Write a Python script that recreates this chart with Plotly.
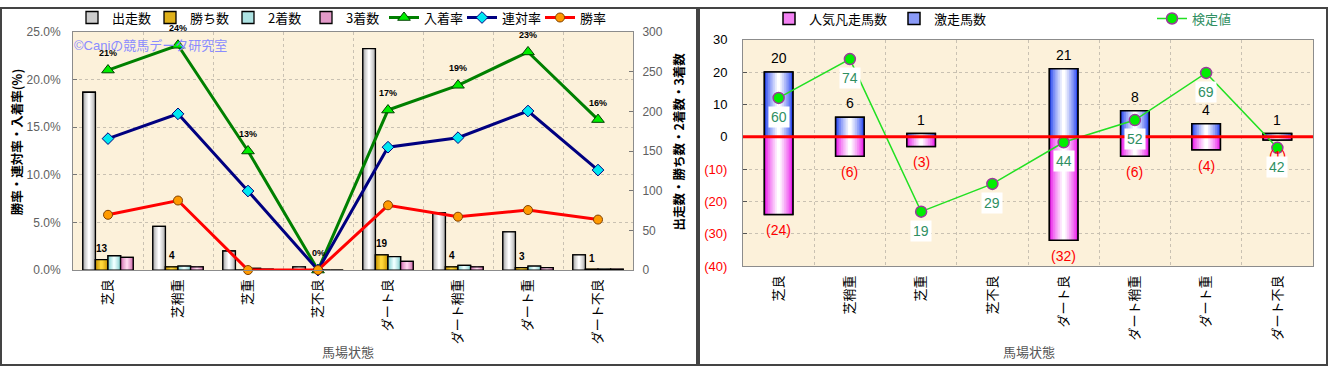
import plotly.graph_objects as go

# ---------------- data ----------------
categories = ['芝良', '芝稍重', '芝重', '芝不良', 'ダート良', 'ダート稍重', 'ダート重', 'ダート不良']

# left chart: counts (right axis) and rates (left axis, %)
starts = [224, 55, 24, 4, 279, 72, 48, 19]
wins = [13, 4, 0, 0, 19, 4, 3, 1]
seconds = [18, 5, 2, 0, 17, 6, 5, 1]
thirds = [16, 4, 1, 0, 11, 4, 3, 1]
place_rate = [21.0, 23.6, 12.5, 0.0, 16.8, 19.4, 22.9, 15.8]
rentai_rate = [13.8, 16.4, 8.3, 0.0, 12.9, 13.9, 16.7, 10.5]
win_rate = [5.8, 7.3, 0.0, 0.0, 6.8, 5.6, 6.3, 5.3]
place_labels = ['21%', '24%', '13%', '0%', '17%', '19%', '23%', '16%']
pct_ticks = [0, 5, 10, 15, 20, 25]
count_ticks = [0, 50, 100, 150, 200, 250, 300]

# right chart
gekiso = [20, 6, 1, 0, 21, 8, 4, 1]          # 激走馬数 (positive)
bonso = [24, 6, 3, 0, 32, 6, 4, 1]           # 人気凡走馬数 (drawn downward)
kentei = [60, 74, 19, 29, 44, 52, 69, 42]    # 検定値
right_ticks = [30, 20, 10, 0, -10, -20, -30, -40]

# ---------------- styling ----------------
W, H = 1328, 375
FONT = 'Liberation Sans, Noto Sans CJK JP, sans-serif'
JP = 'Noto Sans CJK JP, sans-serif'
BG = '#fcf1da'
GRID = '#c9c1b2'


def px_x(v):
    return v / W


def px_y(v):
    return 1 - v / H


def mix(c1, c2, t):
    a = [int(c1[i:i + 2], 16) for i in (1, 3, 5)]
    b = [int(c2[i:i + 2], 16) for i in (1, 3, 5)]
    return '#%02x%02x%02x' % tuple(round(a[j] + (b[j] - a[j]) * t) for j in range(3))


def layers_for(edge, center, n=8):
    out = []
    for k in range(n):
        frac = 1.0 - k / n
        t = (k / (n - 1)) ** 0.8
        out.append((frac, mix(edge, center, t)))
    return out


fig = go.Figure()


def gradient_bar(x, y, name, offset, width, layers, xaxis, yaxis, legend, group, line_w=1.3):
    for k, (frac, color) in enumerate(layers):
        w = width * frac
        fig.add_trace(go.Bar(
            x=x, y=y, name=name, offset=offset + (width - w) / 2, width=w,
            marker=dict(color=color if k else mix(layers[0][1], layers[-1][1], 0.45),
                        line=dict(color='black', width=line_w if k == 0 else 0)),
            xaxis=xaxis, yaxis=yaxis, legend=legend, legendgroup=group,
            showlegend=(k == 0), hoverinfo='skip'))
        if k == 0:
            fig.add_trace(go.Bar(
                x=x, y=y, name=name, offset=offset, width=width,
                marker=dict(color=color, line=dict(width=0)),
                xaxis=xaxis, yaxis=yaxis, legend=legend, legendgroup=group,
                showlegend=False, hoverinfo='skip'))
    fig.add_trace(go.Bar(
        x=x, y=y, name=name, offset=offset, width=width,
        marker=dict(color='rgba(0,0,0,0)', line=dict(color='black', width=line_w)),
        xaxis=xaxis, yaxis=yaxis, legend=legend, legendgroup=group,
        showlegend=False, hoverinfo='skip'))


# ---- left chart bars (counts on y) ----
bw = 0.18
left_series = [
    ('出走数', starts, layers_for('#a4a4a4', '#ffffff')),
    ('勝ち数', wins, layers_for('#c39000', '#ffd83a')),
    ('2着数', seconds, layers_for('#7ccccc', '#ecffff')),
    ('3着数', thirds, layers_for('#cc68aa', '#ffd6ee')),
]
for i, (nm, vals, layers) in enumerate(left_series):
    gradient_bar(categories, vals, nm, -2 * bw + i * bw, bw, layers, 'x', 'y', 'legend', 'L' + nm)

# ---- left chart lines (rates on y2) ----
fig.add_trace(go.Scatter(
    x=categories, y=place_rate, name='入着率', mode='lines+markers',
    line=dict(color='#008000', width=3),
    marker=dict(symbol='triangle-up', size=11, color='#00ee00', line=dict(color='#004000', width=1)),
    xaxis='x', yaxis='y2', legend='legend', cliponaxis=False, hoverinfo='skip'))
fig.add_trace(go.Scatter(
    x=categories, y=rentai_rate, name='連対率', mode='lines+markers',
    line=dict(color='#000080', width=3),
    marker=dict(symbol='diamond', size=9, color='#00e8f0', line=dict(color='#000080', width=1)),
    xaxis='x', yaxis='y2', legend='legend', cliponaxis=False, hoverinfo='skip'))
fig.add_trace(go.Scatter(
    x=categories, y=win_rate, name='勝率', mode='lines+markers',
    line=dict(color='#ff0000', width=3),
    marker=dict(symbol='circle', size=9, color='#ff9a00', line=dict(color='#804000', width=1)),
    xaxis='x', yaxis='y2', legend='legend', cliponaxis=False, hoverinfo='skip'))

# ---- right chart bars ----
rw = 0.4
gradient_bar(categories, [-v for v in bonso], '人気凡走馬数', -rw / 2, rw,
             layers_for('#ea1cea', '#ffffff'), 'x2', 'y3', 'legend2', 'R1', line_w=1.5)
gradient_bar(categories, gekiso, '激走馬数', -rw / 2, rw,
             layers_for('#2a48f0', '#ffffff'), 'x2', 'y3', 'legend2', 'R2', line_w=1.5)

fig.add_trace(go.Scatter(
    x=categories, y=kentei, name='検定値', mode='lines+markers',
    line=dict(color='#22e022', width=1.5),
    marker=dict(symbol='circle', size=11, color='#00ee00', line=dict(color='#9a3a9a', width=1.5)),
    xaxis='x2', yaxis='y4', legend='legend3', cliponaxis=False, hoverinfo='skip'))

# ---------------- annotations ----------------
ann = []
ann.append(dict(text='©Caniの競馬データ研究室', xref='paper', yref='paper', x=px_x(72), y=px_y(40),
                xanchor='left', yanchor='middle', showarrow=False,
                font=dict(family=FONT, size=13, color='#8a8cff')))
for i, v in enumerate(wins):
    if v > 0:
        ann.append(dict(text='<b>%d</b>' % v, xref='x', yref='y', x=i - bw / 2, y=v, yshift=11,
                        xanchor='center', yanchor='middle',
                        showarrow=False, font=dict(family=FONT, size=10, color='black')))
for i, v in enumerate(place_rate):
    ann.append(dict(text='<b>%s</b>' % place_labels[i], xref='x', yref='y2', x=i, y=v, yshift=17,
                    xanchor='center', yanchor='middle',
                    showarrow=False, font=dict(family=FONT, size=9, color='black')))
for i, v in enumerate(gekiso):
    if v > 0:
        ann.append(dict(text=str(v), xref='x2', yref='y3', x=i, y=v, yshift=14,
                        xanchor='center', yanchor='middle',
                        showarrow=False, font=dict(family=FONT, size=14, color='black')))
for i, v in enumerate(bonso):
    if v > 0:
        ann.append(dict(text='(%d)' % v, xref='x2', yref='y3', x=i, y=-v, yshift=-16,
                        xanchor='center', yanchor='middle',
                        showarrow=False, font=dict(family=FONT, size=14, color='#ff0000')))
for i, v in enumerate(kentei):
    ann.append(dict(text=str(v), xref='x2', yref='y4', x=i, y=v, yshift=-19,
                    xanchor='center', yanchor='middle',
                    showarrow=False, bgcolor='white', borderpad=2,
                    font=dict(family=FONT, size=14, color='#2f8f62')))
ann.append(dict(text='馬場状態', xref='paper', yref='paper', x=px_x(348), y=px_y(359),
                xanchor='center', yanchor='middle',
                showarrow=False, font=dict(family=JP, size=13, color='#555555')))
ann.append(dict(text='馬場状態', xref='paper', yref='paper', x=px_x(1029), y=px_y(359),
                xanchor='center', yanchor='middle',
                showarrow=False, font=dict(family=JP, size=13, color='#555555')))
ann.append(dict(text='<b>勝率・連対率・入着率(%)</b>', xref='paper', yref='paper', x=px_x(16), y=px_y(141),
                xanchor='center', yanchor='middle',
                textangle=-90, showarrow=False, font=dict(family=JP, size=12.5, color='black')))
ann.append(dict(text='<b>出走数・勝ち数・2着数・3着数</b>', xref='paper', yref='paper', x=px_x(678), y=px_y(140),
                xanchor='center', yanchor='middle',
                textangle=-90, showarrow=False, font=dict(family=JP, size=12.5, color='black')))

# ---------------- shapes ----------------
shapes = [
    dict(type='rect', xref='paper', yref='paper', x0=px_x(1), x1=px_x(697), y0=px_y(373), y1=px_y(1),
         line=dict(color='#444444', width=2), fillcolor='rgba(0,0,0,0)', layer='above'),
    dict(type='rect', xref='paper', yref='paper', x0=px_x(699), x1=px_x(1327), y0=px_y(373), y1=px_y(1),
         line=dict(color='#444444', width=2), fillcolor='rgba(0,0,0,0)', layer='above'),
    dict(type='line', xref='x2 domain', yref='y3', x0=0, x1=1, y0=0, y1=0,
         line=dict(color='#ff0000', width=3), layer='above'),
]

right_ticktext = [str(t) if t >= 0 else '<span style="color:#ff0000">(%d)</span>' % (-t) for t in right_ticks]
pct_ticktext = ['%.1f%%' % t for t in pct_ticks]

axis_common = dict(showline=True, linecolor='#8c8c8c', linewidth=1, mirror=True)

fig.update_layout(
    width=W, height=H,
    margin=dict(l=0, r=0, t=0, b=0),
    paper_bgcolor='white', plot_bgcolor=BG,
    font=dict(family=FONT, size=12, color='black'),
    barmode='overlay',
    showlegend=True,
    annotations=ann,
    shapes=shapes,
    xaxis=dict(domain=[px_x(73), px_x(633)], anchor='y', type='category',
               categoryorder='array', categoryarray=categories,
               tickangle=-90, tickfont=dict(family=JP, size=13, color='black'),
               tickson='boundaries', ticks='', showgrid=True, gridcolor=GRID, griddash='dot',
               ticklabelstandoff=3, range=[-0.5, 7.5], **axis_common),
    yaxis=dict(domain=[px_y(274), px_y(26)], anchor='x', side='right', range=[0, 300],
               tickvals=count_ticks, ticks='inside', ticklen=4, tickcolor='#777',
               tickfont=dict(family=FONT, size=12, color='#606060'), showgrid=False,
               zeroline=False, ticklabelstandoff=6, **axis_common),
    yaxis2=dict(overlaying='y', anchor='x', side='left', range=[0, 25],
                tickvals=pct_ticks, ticktext=pct_ticktext,
                ticks='inside', ticklen=4, tickcolor='#777',
                tickfont=dict(family=FONT, size=12, color='#606060'),
                showgrid=True, gridcolor=GRID, griddash='dot', zeroline=False,
                ticklabelstandoff=9, showline=True, linecolor='#8c8c8c'),
    xaxis2=dict(domain=[px_x(743), px_x(1313)], anchor='y3', type='category',
                categoryorder='array', categoryarray=categories,
                tickangle=-90, tickfont=dict(family=JP, size=13, color='black'),
                tickson='boundaries', ticks='', showgrid=True, gridcolor=GRID, griddash='dot',
                ticklabelstandoff=3, range=[-0.5, 7.5], **axis_common),
    yaxis3=dict(domain=[px_y(270), px_y(34)], anchor='x2', range=[-40, 30],
                tickvals=right_ticks, ticktext=right_ticktext, ticks='inside', ticklen=4,
                tickcolor='#555', tickfont=dict(family=FONT, size=13, color='black'),
                showgrid=True, gridcolor=GRID, griddash='dot', zeroline=False,
                ticklabelstandoff=12, **axis_common),
    yaxis4=dict(overlaying='y3', anchor='x2', range=[46 - 40 * 7 / 6, 46 + 30 * 7 / 6],
                visible=False, showgrid=False, zeroline=False),
    legend=dict(x=px_x(72), y=px_y(11), xanchor='left', yanchor='middle', orientation='h',
                entrywidth=33, entrywidthmode='pixels', bgcolor='rgba(0,0,0,0)',
                font=dict(family=JP, size=13, color='black'), traceorder='normal'),
    legend2=dict(x=px_x(769), y=px_y(12), xanchor='left', yanchor='middle', orientation='h',
                 entrywidth=80, entrywidthmode='pixels', bgcolor='rgba(0,0,0,0)',
                 font=dict(family=JP, size=13, color='black'), traceorder='normal'),
    legend3=dict(x=px_x(1152), y=px_y(12), xanchor='left', yanchor='middle', orientation='h',
                 bgcolor='rgba(0,0,0,0)',
                 font=dict(family=JP, size=13, color='#2f8f62'), traceorder='normal'),
)

fig.write_html('out.html', config={'displayModeBar': False},
               post_script="document.body.style.margin='0';document.body.style.padding='0';"
                           "document.body.style.overflow='hidden';")
